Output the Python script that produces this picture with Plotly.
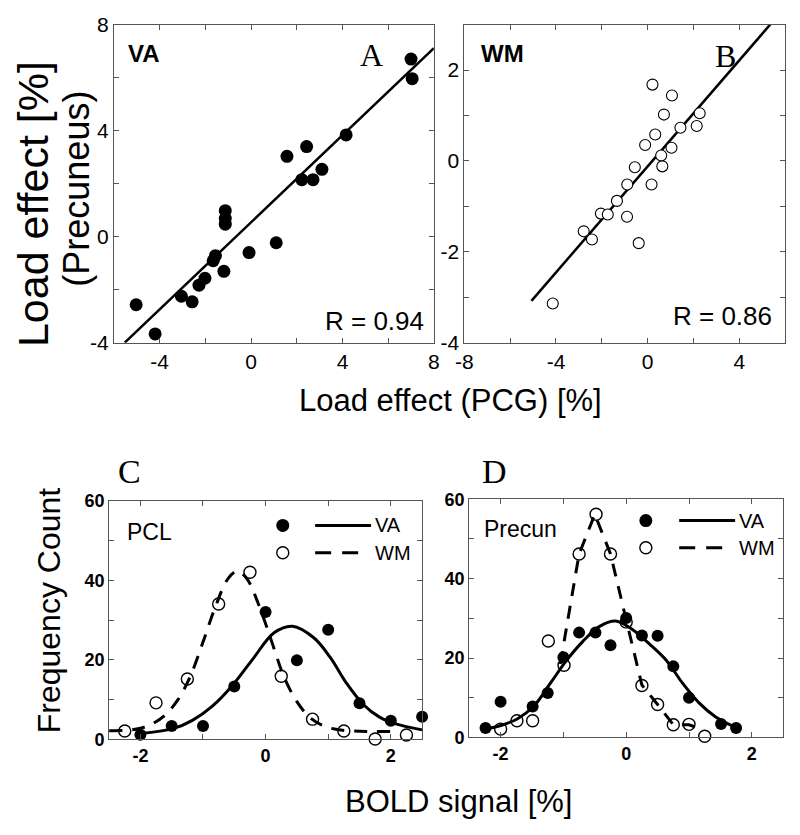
import plotly.graph_objects as go

# ---------------- data ----------------
# Panel A (VA): load effect PCG vs Precuneus
a_x = [-5.03, -4.20, -3.05, -2.58, -2.28, -2.02, -1.66, -1.56, -1.19, -1.13, -1.13, -1.13,
       -0.09, 1.10, 1.57, 2.22, 2.43, 2.71, 3.10, 4.16, 7.00, 7.05]
a_y = [-2.57, -3.67, -2.25, -2.46, -1.83, -1.57, -0.91, -0.72, -1.31, 0.98, 0.69, 0.47,
       -0.60, -0.23, 3.03, 2.15, 3.40, 2.15, 2.54, 3.84, 6.70, 5.96]
a_fit_x = [-5.53, 8.0]
a_fit_y = [-4.0, 7.11]

# Panel B (WM)
b_x = [-4.14, -2.79, -2.43, -2.04, -1.74, -1.34, -0.90, -0.89, -0.56, -0.39, -0.11,
       0.17, 0.21, 0.33, 0.59, 0.64, 0.71, 1.04, 1.06, 1.43, 2.14, 2.27]
b_y = [-3.14, -1.55, -1.73, -1.16, -1.18, -0.88, -1.23, -0.52, -0.14, -1.81, 0.35,
       -0.52, 1.68, 0.58, 0.12, -0.12, 1.02, 0.29, 1.44, 0.73, 0.77, 1.05]
b_fit_x = [-5.07, 5.36]
b_fit_y = [-3.08, 3.01]

# Panel C (PCL) frequency counts
c_va_x = [-2.0, -1.5, -1.0, -0.5, 0.0, 0.5, 1.0, 1.5, 2.0, 2.5]
c_va_y = [1.2, 3.4, 3.4, 13.3, 32.1, 19.9, 27.6, 9.1, 4.7, 5.7]
c_wm_x = [-2.25, -1.75, -1.25, -0.75, -0.25, 0.25, 0.75, 1.25, 1.75, 2.25]
c_wm_y = [2.1, 9.2, 15.2, 34.1, 42.1, 15.9, 5.1, 2.1, 0.1, 1.1]
c_va_fit_x = [-2.0, -1.48, -1.17, -0.85, -0.54, -0.22, 0.14, 0.43, 0.77, 1.03, 1.29, 1.56, 1.82, 2.08, 2.5]
c_va_fit_y = [1.5, 2.7, 4.8, 8.4, 13.4, 19.9, 26.9, 28.5, 25.6, 20.7, 14.2, 8.8, 5.6, 3.9, 2.4]
c_wm_fit_x = [-2.5, -2.2, -2.0, -1.8, -1.6, -1.4, -1.2, -1.0, -0.8, -0.6, -0.45, -0.3,
              -0.1, 0.1, 0.3, 0.5, 0.7, 0.9, 1.1, 1.4, 1.7, 2.0]
c_wm_fit_y = [2.2, 2.3, 2.8, 4.0, 6.2, 10.0, 16.0, 24.5, 33.5, 40.5, 42.4, 40.5,
              33.5, 24.5, 15.5, 9.5, 5.6, 3.6, 2.6, 2.1, 2.0, 2.0]

# Panel D (Precun)
d_va_x = [-2.24, -2.0, -1.49, -1.25, -1.0, -0.75, -0.49, -0.25, 0.0, 0.25, 0.5, 0.75, 1.0, 1.51, 1.75]
d_va_y = [2.4, 9.0, 7.8, 11.2, 20.2, 26.4, 26.4, 23.2, 30.1, 25.7, 25.6, 17.9, 10.0, 3.4, 2.4]
d_wm_x = [-2.0, -1.74, -1.49, -1.24, -0.99, -0.75, -0.48, -0.25, 0.0, 0.25, 0.5, 0.75, 1.0, 1.25]
d_wm_y = [2.1, 4.2, 4.2, 24.3, 18.2, 46.2, 56.2, 46.2, 29.1, 13.1, 8.3, 3.2, 3.3, 0.3]
d_va_fit_x = [-2.2, -2.0, -1.73, -1.47, -1.21, -0.95, -0.69, -0.43, -0.17, 0.07, 0.38, 0.64, 0.9, 1.16, 1.42, 1.68, 1.75]
d_va_fit_y = [2.2, 3.0, 4.7, 7.9, 13.6, 19.4, 24.2, 27.9, 29.3, 27.5, 23.4, 19.4, 13.6, 8.7, 5.2, 3.0, 2.7]
d_wm_fit_x = [-1.05, -0.75, -0.5, -0.25, 0.0, 0.25, 0.5, 0.75, 1.0, 1.23]
d_wm_fit_y = [18.5, 46.2, 56.2, 46.2, 29.6, 13.2, 8.3, 3.2, 3.2, 1.9]

# ---------------- figure ----------------
W, H = 800, 835
SANS = "Liberation Sans, Arial, sans-serif"
SERIF = "Liberation Serif, Times New Roman, serif"
AX = "#555555"

def px(x):
    return x / W

def py(y):
    return 1 - y / H

fig = go.Figure()

def filled(x, y, xa, ya, size=12):
    fig.add_trace(go.Scatter(x=x, y=y, mode="markers", xaxis=xa, yaxis=ya, cliponaxis=False,
                             hoverinfo="skip",
                             marker=dict(color="black", size=size, line=dict(width=0))))

def opened(x, y, xa, ya, size=12, lw=1.3):
    fig.add_trace(go.Scatter(x=x, y=y, mode="markers", xaxis=xa, yaxis=ya, cliponaxis=False,
                             hoverinfo="skip",
                             marker=dict(color="white", size=size, line=dict(color="black", width=lw))))

def line(x, y, xa, ya, dash="solid", width=2.5, shape="linear"):
    fig.add_trace(go.Scatter(x=x, y=y, mode="lines", xaxis=xa, yaxis=ya, cliponaxis=True,
                             hoverinfo="skip",
                             line=dict(color="black", width=width, dash=dash, shape=shape)))

# A
line(a_fit_x, a_fit_y, "x", "y")
filled(a_x, a_y, "x", "y", 13)
# B
line(b_fit_x, b_fit_y, "x2", "y2")
opened(b_x, b_y, "x2", "y2", 11, 1.1)
# C
opened(c_wm_x, c_wm_y, "x3", "y3", 12, 1.4)
line(c_wm_fit_x, c_wm_fit_y, "x3", "y3", dash="13px,10px", width=3, shape="spline")
line(c_va_fit_x, c_va_fit_y, "x3", "y3", width=3, shape="spline")
filled(c_va_x, c_va_y, "x3", "y3", 12)
# D
opened(d_wm_x, d_wm_y, "x4", "y4", 12, 1.4)
line(d_wm_fit_x, d_wm_fit_y, "x4", "y4", dash="13px,10px", width=3)
line(d_va_fit_x, d_va_fit_y, "x4", "y4", width=3, shape="spline")
filled(d_va_x, d_va_y, "x4", "y4", 12)

def axis(domain, rng, tickvals, minor, anchor, font, showlabels=True):
    return dict(domain=domain, range=rng, anchor=anchor, tickvals=tickvals,
                ticktext=[("%g" % v) for v in tickvals],
                showgrid=False, zeroline=False, showline=True, linecolor=AX, linewidth=1,
                mirror="ticks", ticks="inside", ticklen=5, tickcolor=AX, tickwidth=1,
                minor=dict(dtick=minor, tick0=0, ticks="inside", ticklen=5, tickcolor=AX, tickwidth=1),
                showticklabels=showlabels, tickfont=font, fixedrange=True)

tf_top = dict(family=SANS, size=21, color="black")
tf_bot = dict(family=SANS, size=18, color="black", weight="bold")

A_x = [px(107), px(433)]; A_y = [py(340), py(13)]
B_x = [px(464), px(791)]; B_y = [py(340), py(13)]
C_x = [px(102), px(421)]; C_y = [py(748), py(503)]
D_x = [px(469), px(789)]; D_y = [py(746), py(501)]

fig.update_layout(
    width=W, height=H, margin=dict(l=0, r=0, t=0, b=0),
    paper_bgcolor="white", plot_bgcolor="white", showlegend=False, hovermode=False,
    xaxis=axis(A_x, [-6, 8], [-4, 0, 4, 8], 2, "y", tf_top),
    yaxis=axis(A_y, [-4, 8], [-4, 0, 4, 8], 2, "x", tf_top),
    xaxis2=axis(B_x, [-8, 6], [-8, -4, 0, 4], 2, "y2", tf_top),
    yaxis2=axis(B_y, [-4, 3], [-4, -2, 0, 2], 1, "x2", tf_top),
    xaxis3=axis(C_x, [-2.5, 2.5], [-2, 0, 2], 1, "y3", tf_bot),
    yaxis3=axis(C_y, [0, 60], [0, 20, 40, 60], 10, "x3", tf_bot),
    xaxis4=axis(D_x, [-2.5, 2.5], [-2, 0, 2], 1, "y4", tf_bot),
    yaxis4=axis(D_y, [0, 60], [0, 20, 40, 60], 10, "x4", tf_bot),
)

ann = []
def text(s, x, y, size, xanchor="center", yanchor="middle", family=SANS, bold=False, angle=0):
    f = dict(family=family, size=size, color="black")
    if bold:
        f["weight"] = "bold"
    ann.append(dict(text=s, x=px(x), y=py(y), xref="paper", yref="paper", showarrow=False,
                    xanchor=xanchor, yanchor=yanchor, font=f, textangle=angle))

# panel texts
text("VA", 119, 43, 24, xanchor="left", bold=True)
text("A", 369, 44, 32, family=SERIF)
text("R = 0.94", 425, 318, 26, xanchor="right")
text("WM", 479, 43, 24, xanchor="left", bold=True)
text("B", 730, 45, 32, family=SERIF)
text("R = 0.86", 780, 313, 26, xanchor="right")
text("C", 123, 473, 34, family=SERIF)
text("D", 495, 473, 34, family=SERIF)
text("PCL", 118, 535, 23, xanchor="left")
text("Precun", 482, 532, 23, xanchor="left")
# axis titles
text("Load effect [%]", 24, 198, 43, angle=-90)
text("(Precuneus)", 69, 182, 36, angle=-90)
text("Load effect (PCG) [%]", 450, 400, 31)
text("Frequency Count", 41, 615, 32, angle=-90)
text("BOLD signal [%]", 458, 812, 31)

# legends (in-panel)
shapes = []
def leg(xref, yref, dom_x, dom_y, mx, lx0, lx1, tx, ya, yb):
    def dx(p):
        return (p - dom_x[0]) / (dom_x[1] - dom_x[0])
    def dy(p):
        return (dom_y[1] - p) / (dom_y[1] - dom_y[0])
    shapes.append(dict(type="circle", xref=xref, yref=yref, xsizemode="pixel", ysizemode="pixel",
                       xanchor=dx(mx), yanchor=dy(ya), x0=-6.5, x1=6.5, y0=-6.5, y1=6.5,
                       fillcolor="black", line=dict(color="black", width=0)))
    shapes.append(dict(type="line", xref=xref, yref=yref, x0=dx(lx0), x1=dx(lx1), y0=dy(ya), y1=dy(ya),
                       line=dict(color="black", width=3)))
    shapes.append(dict(type="circle", xref=xref, yref=yref, xsizemode="pixel", ysizemode="pixel",
                       xanchor=dx(mx), yanchor=dy(yb), x0=-6, x1=6, y0=-6, y1=6,
                       fillcolor="white", line=dict(color="black", width=1.4)))
    shapes.append(dict(type="line", xref=xref, yref=yref, x0=dx(lx0), x1=dx(lx1 - 12), y0=dy(yb), y1=dy(yb),
                       line=dict(color="black", width=3, dash="16px,11px")))
    for s, yy in (("VA", ya), ("WM", yb)):
        ann.append(dict(text=s, x=dx(tx), y=dy(yy), xref=xref, yref=yref, showarrow=False,
                        xanchor="left", yanchor="middle", font=dict(family=SANS, size=20, color="black")))

leg("x3 domain", "y3 domain", (102, 421), (503, 748), 279, 312, 369, 371, 528, 556)
leg("x4 domain", "y4 domain", (469, 789), (501, 746), 649, 683, 740, 742, 523, 551)

fig.update_layout(annotations=ann, shapes=shapes)
# remove the default page margin so the figure fills the 800x835 window exactly
fig.write_html("out.html",
               config={"displayModeBar": False, "staticPlot": True},
               post_script="document.body.style.margin='0';document.body.style.overflow='hidden';")
